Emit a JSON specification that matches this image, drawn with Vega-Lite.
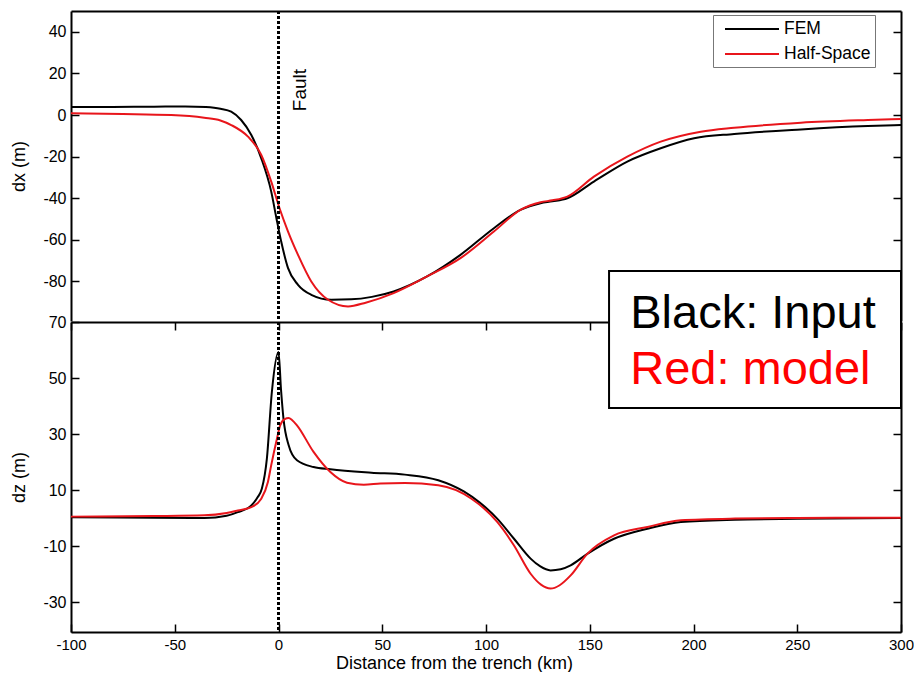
{
  "$schema": "https://vega.github.io/schema/vega-lite/v6.json",
  "background": "white",
  "padding": {"left": 10, "top": 9, "right": 0, "bottom": 0},
  "config": {
    "font": "Liberation Sans",
    "view": {"stroke": null},
    "axis": {
      "grid": false,
      "domainColor": "black",
      "domainWidth": 2,
      "tickColor": "black",
      "tickWidth": 1.5,
      "tickSize": -8,
      "labelPadding": 13,
      "labelFont": "Liberation Sans",
      "labelFontSize": 15,
      "labelColor": "black",
      "labelExpr": "'' + datum.value",
      "titleFont": "Liberation Sans",
      "titleFontSize": 18,
      "titleFontWeight": "normal",
      "titleColor": "black"
    }
  },
  "datasets": {
    "dx": [
      {"x": -100, "series": "FEM", "v": 3.8}, {"x": -80, "series": "FEM", "v": 3.9}, {"x": -60, "series": "FEM", "v": 4.0}, {"x": -45, "series": "FEM", "v": 4.1}, {"x": -35, "series": "FEM", "v": 3.8}, {"x": -28, "series": "FEM", "v": 3.0}, {"x": -22.8, "series": "FEM", "v": 1.6}, {"x": -18, "series": "FEM", "v": -2.4}, {"x": -13.1, "series": "FEM", "v": -9.6}, {"x": -8.3, "series": "FEM", "v": -20.8}, {"x": -3.5, "series": "FEM", "v": -36.8}, {"x": -1, "series": "FEM", "v": -49.6}, {"x": 1.3, "series": "FEM", "v": -60.8}, {"x": 4.6, "series": "FEM", "v": -73.6}, {"x": 9.4, "series": "FEM", "v": -81.6}, {"x": 15.8, "series": "FEM", "v": -86.4}, {"x": 25.5, "series": "FEM", "v": -88.8}, {"x": 35, "series": "FEM", "v": -88.6}, {"x": 45, "series": "FEM", "v": -87.4}, {"x": 55.5, "series": "FEM", "v": -84.8}, {"x": 71.6, "series": "FEM", "v": -77.6}, {"x": 87.7, "series": "FEM", "v": -67.2}, {"x": 103.8, "series": "FEM", "v": -54.4}, {"x": 116.6, "series": "FEM", "v": -45.6}, {"x": 126.3, "series": "FEM", "v": -42.4}, {"x": 132, "series": "FEM", "v": -41.5}, {"x": 139.2, "series": "FEM", "v": -40.0}, {"x": 152, "series": "FEM", "v": -32.0}, {"x": 168.1, "series": "FEM", "v": -22.4}, {"x": 184.2, "series": "FEM", "v": -16.0}, {"x": 200.3, "series": "FEM", "v": -11.2}, {"x": 219.6, "series": "FEM", "v": -9.1}, {"x": 251.8, "series": "FEM", "v": -6.9}, {"x": 284, "series": "FEM", "v": -5.3}, {"x": 300, "series": "FEM", "v": -4.8},
      {"x": -100, "series": "Half-Space", "v": 0.8}, {"x": -75, "series": "Half-Space", "v": 0.5}, {"x": -51.7, "series": "Half-Space", "v": 0}, {"x": -35.8, "series": "Half-Space", "v": -1.3}, {"x": -28, "series": "Half-Space", "v": -2.6}, {"x": -22.8, "series": "Half-Space", "v": -4.8}, {"x": -14.7, "series": "Half-Space", "v": -10.4}, {"x": -8.3, "series": "Half-Space", "v": -19.2}, {"x": -3.5, "series": "Half-Space", "v": -32.0}, {"x": 0.5, "series": "Half-Space", "v": -44.8}, {"x": 4.6, "series": "Half-Space", "v": -56.0}, {"x": 9.4, "series": "Half-Space", "v": -67.2}, {"x": 15.8, "series": "Half-Space", "v": -80.0}, {"x": 23.9, "series": "Half-Space", "v": -88.8}, {"x": 33.5, "series": "Half-Space", "v": -92.0}, {"x": 42, "series": "Half-Space", "v": -90.2}, {"x": 55.5, "series": "Half-Space", "v": -85.6}, {"x": 71.6, "series": "Half-Space", "v": -77.6}, {"x": 87.7, "series": "Half-Space", "v": -68.8}, {"x": 103.8, "series": "Half-Space", "v": -56.0}, {"x": 116.6, "series": "Half-Space", "v": -45.6}, {"x": 126.3, "series": "Half-Space", "v": -41.9}, {"x": 132, "series": "Half-Space", "v": -41.0}, {"x": 139.2, "series": "Half-Space", "v": -39.2}, {"x": 152, "series": "Half-Space", "v": -29.6}, {"x": 168.1, "series": "Half-Space", "v": -20.0}, {"x": 184.2, "series": "Half-Space", "v": -12.8}, {"x": 203.5, "series": "Half-Space", "v": -8.0}, {"x": 219.6, "series": "Half-Space", "v": -6.1}, {"x": 251.8, "series": "Half-Space", "v": -3.7}, {"x": 284, "series": "Half-Space", "v": -2.4}, {"x": 300, "series": "Half-Space", "v": -1.9}
    ],
    "dz": [
      {"x": -100, "series": "FEM", "v": 0.3}, {"x": -60, "series": "FEM", "v": 0.1}, {"x": -35.7, "series": "FEM", "v": 0.0}, {"x": -25, "series": "FEM", "v": 0.8}, {"x": -19.6, "series": "FEM", "v": 2.1}, {"x": -13.1, "series": "FEM", "v": 4.5}, {"x": -10, "series": "FEM", "v": 7.5}, {"x": -8.0, "series": "FEM", "v": 10.5}, {"x": -5.6, "series": "FEM", "v": 21.2}, {"x": -3.2, "series": "FEM", "v": 45}, {"x": 0, "series": "FEM", "v": 59.3}, {"x": 1.2, "series": "FEM", "v": 46}, {"x": 2.4, "series": "FEM", "v": 35.5}, {"x": 4.9, "series": "FEM", "v": 26}, {"x": 8.9, "series": "FEM", "v": 20.6}, {"x": 16.9, "series": "FEM", "v": 18.2}, {"x": 25, "series": "FEM", "v": 17.4}, {"x": 44.8, "series": "FEM", "v": 16.2}, {"x": 60.9, "series": "FEM", "v": 15.5}, {"x": 77, "series": "FEM", "v": 13.5}, {"x": 89.3, "series": "FEM", "v": 9.5}, {"x": 97, "series": "FEM", "v": 5.5}, {"x": 105.4, "series": "FEM", "v": -0.2}, {"x": 113.5, "series": "FEM", "v": -7.4}, {"x": 121.5, "series": "FEM", "v": -14.5}, {"x": 126, "series": "FEM", "v": -17.2}, {"x": 131.1, "series": "FEM", "v": -18.7}, {"x": 136, "series": "FEM", "v": -18.3}, {"x": 140.8, "series": "FEM", "v": -16.9}, {"x": 148.8, "series": "FEM", "v": -12.8}, {"x": 161.7, "series": "FEM", "v": -7.4}, {"x": 177.8, "series": "FEM", "v": -3.8}, {"x": 193.9, "series": "FEM", "v": -1.4}, {"x": 220, "series": "FEM", "v": -0.6}, {"x": 250, "series": "FEM", "v": -0.3}, {"x": 300, "series": "FEM", "v": 0},
      {"x": -100, "series": "Half-Space", "v": 0.5}, {"x": -60, "series": "Half-Space", "v": 0.7}, {"x": -35.7, "series": "Half-Space", "v": 0.95}, {"x": -25, "series": "Half-Space", "v": 1.8}, {"x": -19.6, "series": "Half-Space", "v": 2.7}, {"x": -13.1, "series": "Half-Space", "v": 3.9}, {"x": -8.3, "series": "Half-Space", "v": 6.9}, {"x": -5.1, "series": "Half-Space", "v": 12.9}, {"x": -3.5, "series": "Half-Space", "v": 18.9}, {"x": -0.75, "series": "Half-Space", "v": 28.3}, {"x": 0.8, "series": "Half-Space", "v": 33.1}, {"x": 3, "series": "Half-Space", "v": 35.3}, {"x": 4.9, "series": "Half-Space", "v": 35.7}, {"x": 6.5, "series": "Half-Space", "v": 35.0}, {"x": 8.9, "series": "Half-Space", "v": 33.1}, {"x": 16.9, "series": "Half-Space", "v": 23.6}, {"x": 25, "series": "Half-Space", "v": 16.4}, {"x": 33, "series": "Half-Space", "v": 12.6}, {"x": 41.1, "series": "Half-Space", "v": 11.9}, {"x": 49.1, "series": "Half-Space", "v": 12.3}, {"x": 60.9, "series": "Half-Space", "v": 12.5}, {"x": 77, "series": "Half-Space", "v": 11.7}, {"x": 93, "series": "Half-Space", "v": 6.9}, {"x": 105.4, "series": "Half-Space", "v": -1.4}, {"x": 113.5, "series": "Half-Space", "v": -9.8}, {"x": 121.5, "series": "Half-Space", "v": -19.9}, {"x": 126.5, "series": "Half-Space", "v": -23.8}, {"x": 131.1, "series": "Half-Space", "v": -25.2}, {"x": 135.5, "series": "Half-Space", "v": -24.0}, {"x": 140.8, "series": "Half-Space", "v": -20.5}, {"x": 148.8, "series": "Half-Space", "v": -12.8}, {"x": 161.7, "series": "Half-Space", "v": -6.2}, {"x": 177.8, "series": "Half-Space", "v": -3.2}, {"x": 193.9, "series": "Half-Space", "v": -0.8}, {"x": 220, "series": "Half-Space", "v": -0.2}, {"x": 250, "series": "Half-Space", "v": 0}, {"x": 300, "series": "Half-Space", "v": 0.1}
    ],
    "fault": [{"x": 0, "label": "Fault"}]
  },
  "spacing": 1,
  "bounds": "flush",
  "vconcat": [
    {
      "width": 830,
      "height": 310,
      "resolve": {"axis": {"x": "independent", "y": "independent"}},
      "layer": [
        {
          "data": {"name": "dx"},
          "mark": {"type": "line", "strokeWidth": 2, "interpolate": "monotone"},
          "encoding": {
            "x": {"field": "x", "type": "quantitative", "scale": {"domain": [-100, 300], "nice": false, "zero": false}, "axis": null},
            "y": {"field": "v", "type": "quantitative", "scale": {"domain": [-99, 50], "nice": false, "zero": false}, "axis": {"orient": "left", "values": [40, 20, 0, -20, -40, -60, -80], "title": "dx (m)", "titlePadding": 14, "labelFontSize": 16}},
            "color": {
              "field": "series", "type": "nominal",
              "scale": {"domain": ["FEM", "Half-Space"], "range": ["#000000", "#e8151b"]},
              "legend": {"orient": "none", "legendX": 642, "legendY": 4, "title": null, "padding": 4, "strokeColor": "#777777", "fillColor": "white", "symbolType": "M-3,0H3", "symbolSize": 324, "symbolStrokeWidth": 2, "symbolOffset": 25, "labelOffset": 22, "labelFontSize": 17.5, "labelFont": "Liberation Sans", "labelColor": "black", "rowPadding": 6}
            }
          }
        },
        {
          "data": {"name": "fault"},
          "mark": {"type": "rule", "strokeWidth": 3, "strokeDash": [3, 2], "color": "black"},
          "encoding": {
            "x": {"field": "x", "type": "quantitative", "scale": {"domain": [-100, 300], "nice": false, "zero": false}, "axis": {"orient": "top", "ticks": false, "labels": false, "title": null}}
          }
        },
        {
          "data": {"name": "fault"},
          "mark": {"type": "text", "angle": 270, "align": "center", "baseline": "middle", "fontSize": 19, "font": "Liberation Sans", "color": "black"},
          "encoding": {
            "x": {"datum": 10.4, "type": "quantitative", "scale": {"domain": [-100, 300], "nice": false, "zero": false}, "axis": null},
            "y": {"datum": 12.0, "type": "quantitative", "scale": {"domain": [-99, 50], "nice": false, "zero": false}, "axis": {"orient": "right", "values": [40, 20, 0, -20, -40, -60, -80], "labels": false, "title": null}},
            "text": {"field": "label"}
          }
        }
      ]
    },
    {
      "width": 830,
      "height": 310,
      "resolve": {"axis": {"x": "independent", "y": "independent"}},
      "layer": [
        {
          "data": {"name": "dz"},
          "mark": {"type": "line", "strokeWidth": 2, "interpolate": "monotone"},
          "encoding": {
            "x": {"field": "x", "type": "quantitative", "scale": {"domain": [-100, 300], "nice": false, "zero": false}, "axis": {"orient": "bottom", "values": [-100, -50, 0, 50, 100, 150, 200, 250, 300], "labelFlush": false, "title": "Distance from the trench (km)", "titlePadding": 2, "titleX": 383}},
            "y": {"field": "v", "type": "quantitative", "scale": {"domain": [-40.7, 70], "nice": false, "zero": false}, "axis": {"orient": "left", "values": [70, 50, 30, 10, -10, -30], "title": "dz (m)", "titlePadding": 14, "labelFontSize": 16}},
            "color": {"field": "series", "type": "nominal", "scale": {"domain": ["FEM", "Half-Space"], "range": ["#000000", "#e8151b"]}, "legend": null}
          }
        },
        {
          "data": {"name": "fault"},
          "mark": {"type": "rule", "strokeWidth": 3, "strokeDash": [3, 2], "color": "black"},
          "encoding": {
            "x": {"field": "x", "type": "quantitative", "scale": {"domain": [-100, 300], "nice": false, "zero": false}, "axis": {"orient": "top", "values": [-100, -50, 0, 50, 100, 150, 200, 250, 300], "labels": false, "title": null}}
          }
        },
        {
          "data": {"name": "fault"},
          "mark": {"type": "rect", "fill": "white", "stroke": "black", "strokeWidth": 2},
          "encoding": {
            "x": {"datum": 159.3, "type": "quantitative", "scale": {"domain": [-100, 300], "nice": false, "zero": false}, "axis": null},
            "x2": {"datum": 300},
            "y": {"datum": 88.2, "type": "quantitative", "scale": {"domain": [-40.7, 70], "nice": false, "zero": false}, "axis": {"orient": "right", "values": [70, 50, 30, 10, -10, -30], "labels": false, "title": null}},
            "y2": {"datum": 39.3}
          }
        },
        {
          "data": {"name": "fault"},
          "mark": {"type": "text", "align": "left", "baseline": "alphabetic", "fontSize": 47, "font": "Liberation Sans", "color": "black", "text": "Black: Input"},
          "encoding": {
            "x": {"datum": 169.5, "type": "quantitative", "scale": {"domain": [-100, 300], "nice": false, "zero": false}, "axis": null},
            "y": {"datum": 67.8, "type": "quantitative", "scale": {"domain": [-40.7, 70], "nice": false, "zero": false}, "axis": null}
          }
        },
        {
          "data": {"name": "fault"},
          "mark": {"type": "text", "align": "left", "baseline": "alphabetic", "fontSize": 47, "font": "Liberation Sans", "color": "#ff0000", "text": "Red: model"},
          "encoding": {
            "x": {"datum": 169.5, "type": "quantitative", "scale": {"domain": [-100, 300], "nice": false, "zero": false}, "axis": null},
            "y": {"datum": 47.8, "type": "quantitative", "scale": {"domain": [-40.7, 70], "nice": false, "zero": false}, "axis": null}
          }
        }
      ]
    }
  ]
}
